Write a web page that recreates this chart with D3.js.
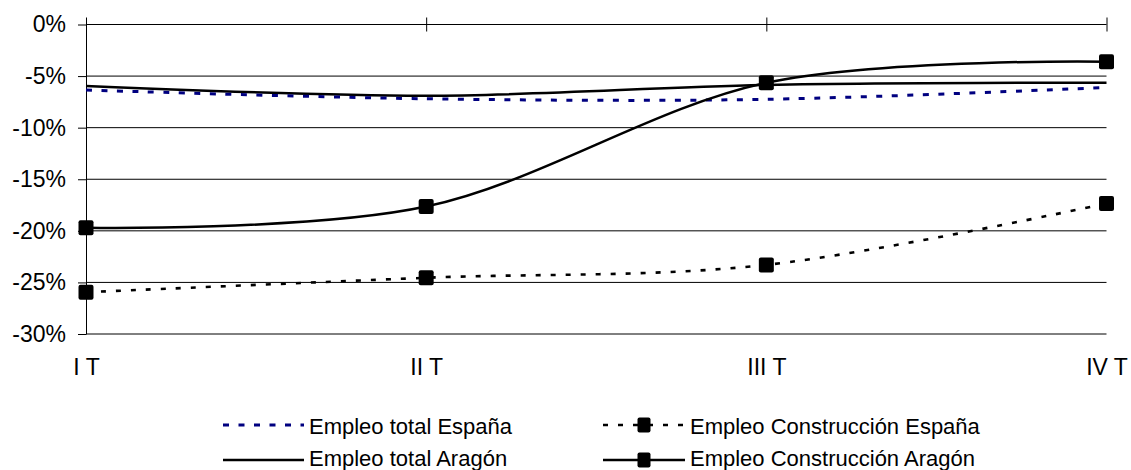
<!DOCTYPE html>
<html>
<head>
<meta charset="utf-8">
<script src="https://cdn.jsdelivr.net/npm/d3@7"></script>
<style>
  html, body { margin: 0; padding: 0; background: #ffffff; }
  svg { display: block; font-family: "Liberation Sans", Arial, sans-serif; }
</style>
</head>
<body>
<svg id="chart" width="1131" height="470"></svg>
<script>
// ---- data ----
const categories = ["I T", "II T", "III T", "IV T"];
const yTicks = [0, -5, -10, -15, -20, -25, -30];
const totalEspana = [-6.35, -7.2, -7.25, -6.1];
const construccionEspana = [-25.95, -24.55, -23.3, -17.35];
const totalAragon = [-5.96, -6.9, -5.86, -5.64];
const construccionAragon = [-19.7, -17.65, -5.65, -3.6];
const seriesNames = ["Empleo total España", "Empleo Construcción España", "Empleo total Aragón", "Empleo Construcción Aragón"];

const series = [
  { name: seriesNames[0], values: totalEspana, color: "#000080", width: 3, dash: "6,9.5", marker: false },
  { name: seriesNames[1], values: construccionEspana, color: "#000000", width: 2.6, dash: "5,10", marker: true },
  { name: seriesNames[2], values: totalAragon, color: "#000000", width: 2.5, dash: null, marker: false },
  { name: seriesNames[3], values: construccionAragon, color: "#000000", width: 2.5, dash: null, marker: true }
];

const svg = d3.select("#chart");
const x = d3.scalePoint().domain(categories).range([86, 1106.5]).padding(0);
const y = d3.scaleLinear().domain([0, -30]).range([24.5, 334]);

// gridlines
svg.append("g").selectAll("line").data(yTicks).join("line")
  .attr("x1", 86).attr("x2", 1106.5)
  .attr("y1", d => y(d)).attr("y2", d => y(d))
  .attr("stroke", "#000").attr("stroke-width", 1);

// y axis
const yAxis = svg.append("g").attr("transform", "translate(86,0)")
  .call(d3.axisLeft(y).tickValues(yTicks).tickSize(8).tickSizeOuter(0).tickPadding(12).tickFormat(d => d + "%"));
yAxis.select(".domain").attr("stroke", "#000").attr("stroke-width", 1);
yAxis.selectAll(".tick line").attr("stroke", "#000");
yAxis.selectAll("text").attr("font-size", 23).attr("font-family", "Liberation Sans, Arial, sans-serif").attr("fill", "#000");

// top axis (zero line) with crossing ticks
const topAxis = svg.append("g").attr("transform", `translate(0,${y(0)})`)
  .call(d3.axisTop(x).tickSize(7).tickSizeOuter(0).tickFormat(""));
topAxis.select(".domain").remove();
topAxis.selectAll(".tick line").attr("y1", 7).attr("y2", -7).attr("stroke", "#000");

// category labels at bottom
const bottomAxis = svg.append("g").attr("transform", `translate(0,${y(-30)})`)
  .call(d3.axisBottom(x).tickSize(0));
bottomAxis.select(".domain").remove();
bottomAxis.selectAll("text").attr("y", 41).attr("dy", 0)
  .attr("font-size", 23).attr("font-family", "Liberation Sans, Arial, sans-serif").attr("fill", "#000");

// lines
const line = d3.line()
  .x((d, i) => x(categories[i]))
  .y(d => y(d))
  .curve(d3.curveCardinal.tension(0));

const drawOrder = [2, 0, 1, 3];
drawOrder.forEach(k => {
  const s = series[k];
  svg.append("path").datum(s.values)
    .attr("d", line)
    .attr("fill", "none")
    .attr("stroke", s.color)
    .attr("stroke-width", s.width)
    .attr("stroke-dasharray", s.dash)
    .attr("stroke-linecap", "butt");
});
series.filter(s => s.marker).forEach(s => {
  svg.append("g").selectAll("rect").data(s.values).join("rect")
    .attr("x", (d, i) => x(categories[i]) - 7.5)
    .attr("y", d => y(d) - 7.5)
    .attr("width", 15).attr("height", 15)
    .attr("rx", 2)
    .attr("fill", "#000");
});

// legend
const legendPos = [
  { lx1: 223, lx2: 304, ly: 425, tx: 309, ty: 434 },
  { lx1: 603, lx2: 685, ly: 425, tx: 690, ty: 434 },
  { lx1: 223, lx2: 304, ly: 460, tx: 309, ty: 466 },
  { lx1: 603, lx2: 685, ly: 460, tx: 690, ty: 466 }
];
const legend = svg.append("g");
series.forEach((s, i) => {
  const p = legendPos[i];
  const g = legend.append("g");
  g.append("line").attr("x1", p.lx1).attr("x2", p.lx2).attr("y1", p.ly).attr("y2", p.ly)
    .attr("stroke", s.color).attr("stroke-width", s.width).attr("stroke-dasharray", s.dash);
  if (s.marker) {
    g.append("rect").attr("x", (p.lx1 + p.lx2) / 2 - 6.5).attr("y", p.ly - 7.5)
      .attr("width", 13).attr("height", 15).attr("rx", 2).attr("fill", "#000");
  }
  g.append("text").attr("x", p.tx).attr("y", p.ty).text(s.name)
    .attr("font-size", 22).attr("fill", "#000");
});
</script>
</body>
</html>
